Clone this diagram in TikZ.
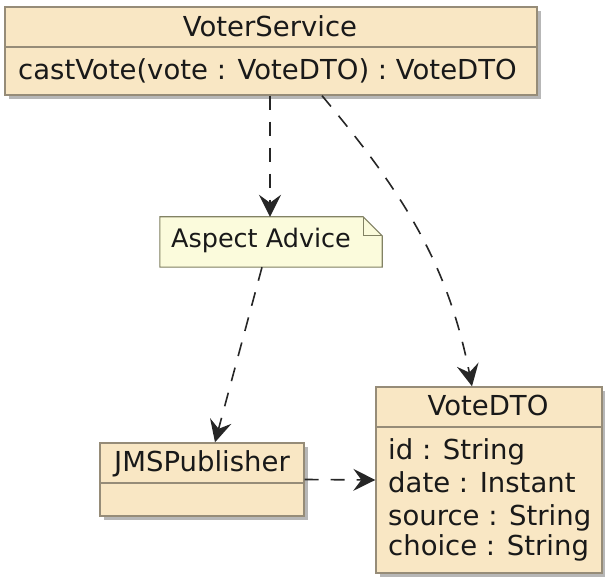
\documentclass[tikz,border=0pt]{standalone}
\usepackage{fontspec}
\setmainfont{DejaVu Sans}
\usetikzlibrary{arrows.meta,shadows}
\definecolor{classfill}{RGB}{249,231,196}
\definecolor{classline}{RGB}{150,140,120}
\definecolor{notefill}{RGB}{251,251,220}
\definecolor{noteline}{RGB}{130,130,100}
\definecolor{txt}{RGB}{25,25,25}
\begin{document}
\begin{tikzpicture}[x=1pt,y=1pt,
  classbox/.style={draw=classline, fill=classfill, line width=1.4pt, inner sep=0pt,
    drop shadow={shadow xshift=4pt, shadow yshift=-4pt, fill=black!70, opacity=.4}},
  lbl/.style={font=\fontsize{27.5}{32}\selectfont, text=txt, inner sep=0pt},
  sep/.style={draw=classline, line width=1.4pt},
  dep/.style={line width=1.6pt, draw=black!85, dash pattern=on 14pt off 12pt,
    -{Stealth[length=22pt,width=22pt,inset=8pt]}}
]
\useasboundingbox (0,0) rectangle (605,577);

% VoterService
\node[classbox, minimum width=532pt, minimum height=88pt] (vs) at (271,526) {};
\draw[sep] (vs.west |- 0,530) -- (vs.east |- 0,530);
\node[lbl, anchor=base] (vsname) at (270,540) {VoterService};
\node[lbl, anchor=base west] (vsm) at (18,497) {castVote(vote : VoteDTO) : VoteDTO};

% Note
\node[minimum width=222pt, minimum height=50pt, inner sep=0pt] (note) at (271,335) {};
\fill[black!70, opacity=.4, xshift=4pt, yshift=-4pt]
  (note.south west) -- (note.north west) -- ([xshift=-19pt]note.north east)
  -- ([yshift=-19pt]note.north east) -- (note.south east) -- cycle;
\draw[draw=noteline, fill=notefill, line width=1.1pt]
  (note.south west) -- (note.north west) -- ([xshift=-19pt]note.north east)
  -- ([yshift=-19pt]note.north east) -- (note.south east) -- cycle;
\draw[draw=noteline, line width=1.1pt]
  ([xshift=-19pt]note.north east) -- ([xshift=-19pt,yshift=-19pt]note.north east)
  -- ([yshift=-19pt]note.north east);
\node[lbl, anchor=base, font=\fontsize{25.5}{30}\selectfont] (notetxt) at (261,329) {Aspect Advice};

% JMSPublisher
\node[classbox, minimum width=204pt, minimum height=73pt] (jms) at (202,97.5) {};
\draw[sep] (jms.west |- 0,94) -- (jms.east |- 0,94);
\node[lbl, anchor=base] (jmsname) at (202,105) {JMSPublisher};

% VoteDTO
\node[classbox, minimum width=226pt, minimum height=186pt] (dto) at (489,97) {};
\draw[sep] (dto.west |- 0,150) -- (dto.east |- 0,150);
\node[lbl, anchor=base] (dtoname) at (488,161) {VoteDTO};
\node[lbl, anchor=base west] (a1) at (388,117) {id : String};
\node[lbl, anchor=base west] (a2) at (388,84) {date : Instant};
\node[lbl, anchor=base west] (a3) at (388,51) {source : String};
\node[lbl, anchor=base west] (a4) at (388,21) {choice : String};

% connectors
\draw[dep] ([xshift=-1pt]vs.south) -- ([xshift=-1pt]note.north);
\draw[dep] ([xshift=-9pt]note.south) -- ([xshift=13pt]jms.north);
\draw[dep] ([xshift=51pt]vs.south) .. controls (405,382) and (448,312) .. ([xshift=-17pt]dto.north);
\draw[dep] (jms.east) -- (dto.west);
\end{tikzpicture}
\end{document}
